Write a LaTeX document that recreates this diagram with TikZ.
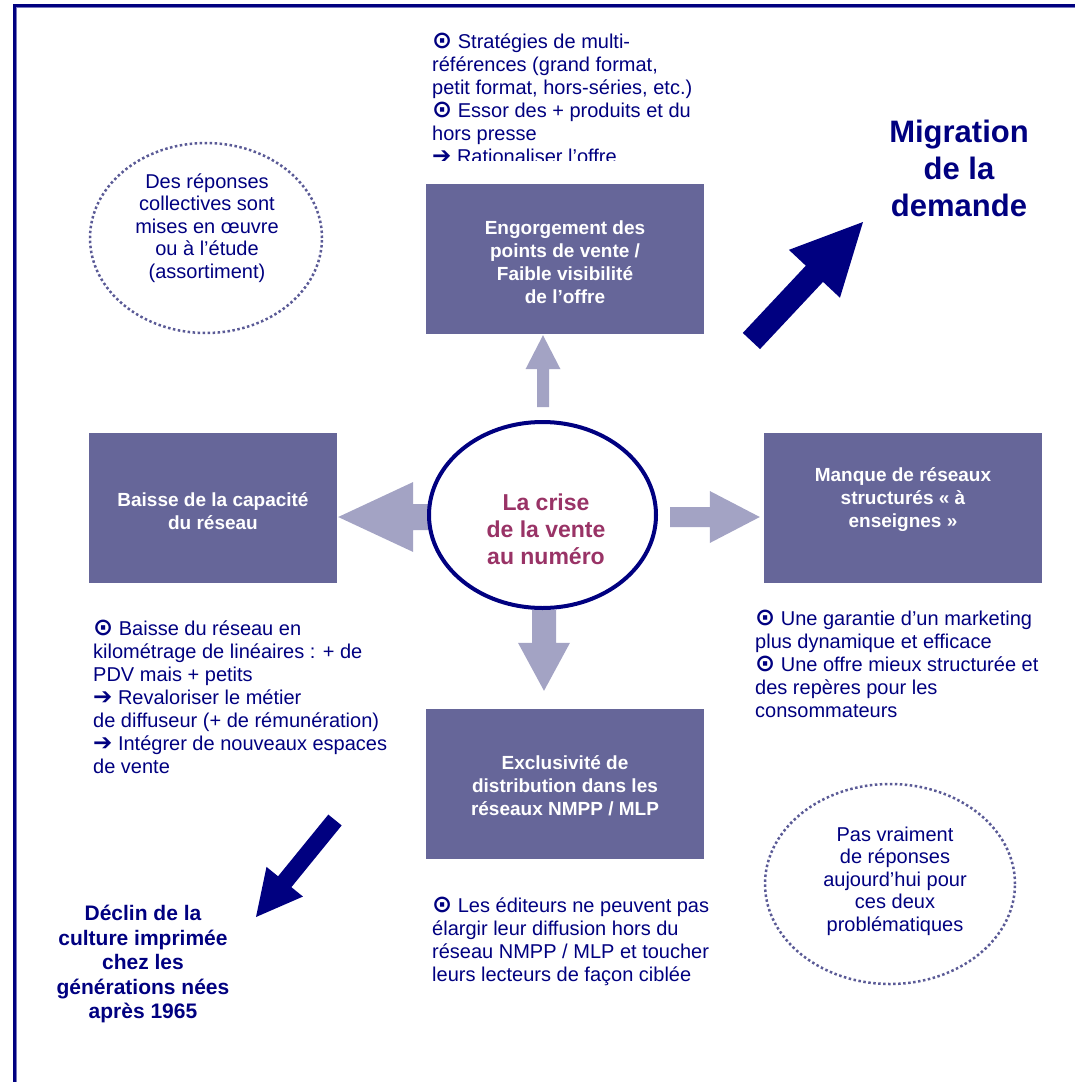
\documentclass[tikz,border=0pt]{standalone}
\usepackage{fontspec}
\setmainfont{Liberation Sans}
\newfontfamily\symfont{DejaVu Sans}
\usetikzlibrary{calc,shapes.geometric}
\definecolor{navy}{RGB}{0,0,128}
\definecolor{boxc}{RGB}{102,102,153}
\definecolor{lightarr}{RGB}{163,163,196}
\definecolor{crisec}{RGB}{153,51,102}
\definecolor{dotc}{RGB}{90,90,150}
\definecolor{framelt}{RGB}{120,120,190}
\newcommand\odotsym{{\symfont\bfseries\fontsize{24}{23}\selectfont ⊙}}
\newcommand\arrsym{{\symfont\bfseries\fontsize{23}{23}\selectfont ➔}}
\newcommand{\fatarrow}[6]{%
  \coordinate (fab) at ($(#3)!#6!(#2)$);
  \fill[#1] ($(#2)!#4!90:(#3)$) -- ($(fab)!#4!90:(#3)$) -- ($(fab)!#5!90:(#3)$) -- (#3)
    -- ($(fab)!#5!-90:(#3)$) -- ($(fab)!#4!-90:(#3)$) -- ($(#2)!#4!-90:(#3)$) -- cycle;}
\pgfdeclarelayer{bg}
\pgfsetlayers{bg,main}
\tikzset{
  box/.style={fill=boxc, minimum height=150pt, inner sep=0pt},
  boxtext/.style={text=white, font=\bfseries\fontsize{19}{23}\selectfont, align=center, inner sep=0pt},
  ptext/.style={text=navy, font=\fontsize{20}{23}\selectfont, align=left, inner sep=0pt},
  ctext/.style={text=navy, font=\fontsize{20}{22.5}\selectfont, align=center, inner sep=0pt},
  dotell/.style={ellipse, draw=dotc, line width=2.5pt, dash pattern=on 2.5pt off 2.5pt, inner sep=0pt},
}
\begin{document}
\begin{tikzpicture}[x=1pt,y=-1pt]
\useasboundingbox (0,0) rectangle (1075,1082);
% frame
\draw[framelt, line width=4pt] (14.5,1082) -- (14.5,5.5) -- (1075,5.5);
\draw[navy, line width=2.4pt] (14.5,1082) -- (14.5,5.5) -- (1075,5.5);

% boxes
\node[box, minimum width=278pt] (tbox) at (565,259) {};
\node[box, minimum width=248pt] (lbox) at (213,508) {};
\node[box, minimum width=278pt] (rbox) at (903,508) {};
\node[box, minimum width=278pt] (bbox) at (565,784) {};
\node[boxtext] (ttxt) at (565,262) {Engorgement des\\points de vente /\\Faible visibilité\\de l’offre};
\node[boxtext] (ltxt) at (213,511) {Baisse de la capacité\\du réseau};
\node[boxtext] (rtxt) at (903,500) {Manque de réseaux\\structurés « à\\enseignes »};
\node[boxtext] (btxt) at (565,786) {Exclusivité de\\distribution dans les\\réseaux NMPP / MLP};

% centre
\node[ellipse, draw=navy, line width=4pt, fill=white, minimum width=227pt, minimum height=186pt, inner sep=0pt] (crise) at (542.5,515) {};
\node[text=crisec, font=\bfseries\fontsize{23}{27}\selectfont, align=center, inner sep=0pt] (crisetxt) at (546,529) {La crise\\de la vente\\au numéro};

% light arrows
\coordinate (upT) at ($(crise.north)+(0.5,-13)$);
\coordinate (upH) at ($(crise.north |- tbox.south)+(0.5,1)$);
\coordinate (leftT) at ($(crise.west)+(5,2)$);
\coordinate (leftH) at ($(crise.west -| lbox.east)+(1,2)$);
\coordinate (rightT) at ($(crise.east)+(12,2)$);
\coordinate (rightH) at ($(crise.east -| rbox.west)+(-4,2)$);
\coordinate (downT) at ($(crise.south)+(1.5,0)$);
\coordinate (downH) at ($(crise.south |- bbox.north)+(1.5,-18)$);
\begin{pgfonlayer}{bg}
\fatarrow{lightarr}{upT}{upH}{6pt}{17.5pt}{34pt}
\fatarrow{lightarr}{leftT}{leftH}{13pt}{35pt}{75pt}
\fatarrow{lightarr}{rightT}{rightH}{10pt}{26pt}{50pt}
\fatarrow{lightarr}{downT}{downH}{12pt}{26pt}{48pt}
\end{pgfonlayer}

% dark arrows
\coordinate (urT) at (751.4,341);
\coordinate (urH) at (863,222);
\coordinate (llT) at (335,820);
\coordinate (llH) at (256,917);
\fatarrow{navy}{urT}{urH}{11.8pt}{35pt}{71pt}
\fatarrow{navy}{llT}{llH}{8.6pt}{23.5pt}{45.5pt}

\node[text=navy, font=\bfseries\fontsize{31}{37}\selectfont, align=center, inner sep=0pt] (migr) at (959,168) {Migration\\de la\\demande};
\node[text=navy, font=\bfseries\fontsize{21}{24.5}\selectfont, align=center, inner sep=0pt] (declin) at (143,964) {Déclin de la\\culture imprimée\\chez les\\générations nées\\après 1965};

% dotted ellipses
\node[dotell, minimum width=232pt, minimum height=190pt] (ell1) at (206,238) {};
\node[ctext] (ell1txt) at (207,228) {Des réponses\\collectives sont\\mises en œuvre\\ou à l’étude\\(assortiment)};
\node[dotell, minimum width=250pt, minimum height=200pt] (ell2) at (890,884) {};
\node[ctext] (ell2txt) at (895,881) {Pas vraiment\\de réponses\\aujourd’hui pour\\ces deux\\problématiques};

% text blocks
\begin{scope}
\clip (400,0) rectangle (760,160);
\node[ptext, anchor=north west] (toptxt) at (432,31) {\vphantom{É}\odotsym\ Stratégies de multi-\\références (grand format,\\petit format, hors-séries, etc.)\\\odotsym\ Essor des + produits et du\\hors presse\\\arrsym\ Rationaliser l’offre};
\end{scope}
\node[ptext, anchor=north west] (lefttxt) at (93,618) {\vphantom{É}\odotsym\ Baisse du réseau en\\kilométrage de linéaires : + de\\PDV mais + petits\\\arrsym\ Revaloriser le métier\\de diffuseur (+ de rémunération)\\\arrsym\ Intégrer de nouveaux espaces\\de vente};
\node[ptext, anchor=north west] (righttxt) at (755,608) {\vphantom{É}\odotsym\ Une garantie d’un marketing\\plus dynamique et efficace\\\odotsym\ Une offre mieux structurée et\\des repères pour les\\consommateurs};
\node[ptext, anchor=north west] (bottxt) at (432,895) {\vphantom{É}\odotsym\ Les éditeurs ne peuvent pas\\élargir leur diffusion hors du\\réseau NMPP / MLP et toucher\\leurs lecteurs de façon ciblée};
\end{tikzpicture}
\end{document}
